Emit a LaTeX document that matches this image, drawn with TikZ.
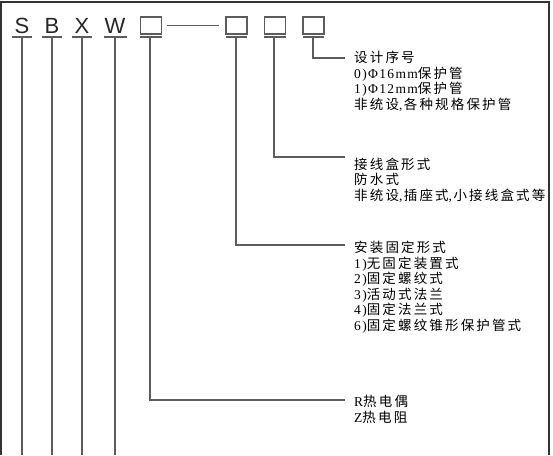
\documentclass[tikz,border=0pt]{standalone}
\usepackage{fontspec}
\setmainfont{Liberation Serif}[LetterSpace=10]
\newfontfamily\cjk{Noto Sans CJK SC}[LetterSpace=16]
\newfontfamily\lettersf{Liberation Sans}
\newcommand\zh[1]{{\cjk #1}}
\newcommand\cmm{,\kern1.5pt}
\definecolor{linegray}{HTML}{5C5C5C}
\definecolor{framegray}{HTML}{333333}
\tikzset{
  letter/.style={font=\lettersf\fontsize{22}{24}\selectfont, text=black!85, inner sep=0pt, anchor=base},
  codebox/.style={draw=linegray, line width=1.5pt, minimum width=21pt, minimum height=17pt, inner sep=0pt},
  conn/.style={draw=linegray, line width=1.5pt},
  uline/.style={draw=linegray, line width=1.5pt},
  txt/.style={font=\fontsize{13.5}{15.5}\selectfont, align=left, inner sep=0pt, anchor=north west, text=black},
  frame/.style={draw=framegray, line width=2pt}
}
\begin{document}
\begin{tikzpicture}[x=1pt,y=-1pt]
\useasboundingbox (0,0) rectangle (553,455);
% letters
\node[letter] (S) at (22,33) {S};
\node[letter] (B) at (52,33) {B};
\node[letter] (X) at (82,33) {X};
\node[letter] (W) at (115,33) {W};
% underline coordinates
\coordinate (uS) at (22,37);
\coordinate (uB) at (52,37);
\coordinate (uX) at (82,37);
\coordinate (uW) at (115,37);
\draw[uline] (12,37) -- (32,37);
\draw[uline] (42,37) -- (62,37);
\draw[uline] (72,37) -- (92,37);
\draw[uline] (104,37) -- (127,37);
\coordinate (eS) at (22,455);
\coordinate (eB) at (52,455);
\coordinate (eX) at (82,455);
\coordinate (eW) at (115,455);
\draw[conn] (uS) -- (eS);
\draw[conn] (uB) -- (eB);
\draw[conn] (uX) -- (eX);
\draw[conn] (uW) -- (eW);
% boxes
\node[codebox] (b1) at (151,25.5) {};
\node[codebox] (b2) at (236.5,25.5) {};
\node[codebox] (b3) at (275,25.5) {};
\node[codebox] (b4) at (313.5,25.5) {};
\path (b1.east) ++(5,0) coordinate (d1) (b2.west) ++(-6,0) coordinate (d2);
\draw[conn] (d1) -- (d2);
\draw[uline] (140,37) -- (162,37);
\draw[uline] (226,37) -- (247,37);
\draw[uline] (264,37) -- (286,37);
\draw[uline] (303,37) -- (324,37);
\coordinate (u1) at (150,37);
\coordinate (u2) at (236,37);
\coordinate (u3) at (274,37);
\coordinate (u4) at (313,37);
% text blocks
\begin{scope}
\clip (0,0) rectangle (548,455);
\node[txt] (t4) at (354,51) {\zh{设计序号}\\0)Φ16mm\zh{保护管}\\1)Φ12mm\zh{保护管}\\\zh{非统设}\cmm\zh{各种规格保护管}};
\node[txt] (t3) at (354,157.5) {\zh{接线盒形式}\\\zh{防水式}\\\zh{非统设}\cmm\zh{插座式}\cmm\zh{小接线盒式等}};
\node[txt] (t2) at (354,241) {\zh{安装固定形式}\\1)\zh{无固定装置式}\\2)\zh{固定螺纹式}\\3)\zh{活动式法兰}\\4)\zh{固定法兰式}\\6)\zh{固定螺纹锥形保护管式}};
\node[txt] (t1) at (354,395) {R\zh{热电偶}\\Z\zh{热电阻}};
\end{scope}
% connectors
\coordinate (c4) at (345,58);
\coordinate (c3) at (345,157);
\coordinate (c2) at (345,245);
\coordinate (c1) at (345,400);
\draw[conn] (u4) |- (c4);
\draw[conn] (u3) |- (c3);
\draw[conn] (u2) |- (c2);
\draw[conn] (u1) |- (c1);
% frame
\draw[frame] (1,455) -- (1,1.5) -- (549,1.5) -- (549,455);
\end{tikzpicture}
\end{document}
